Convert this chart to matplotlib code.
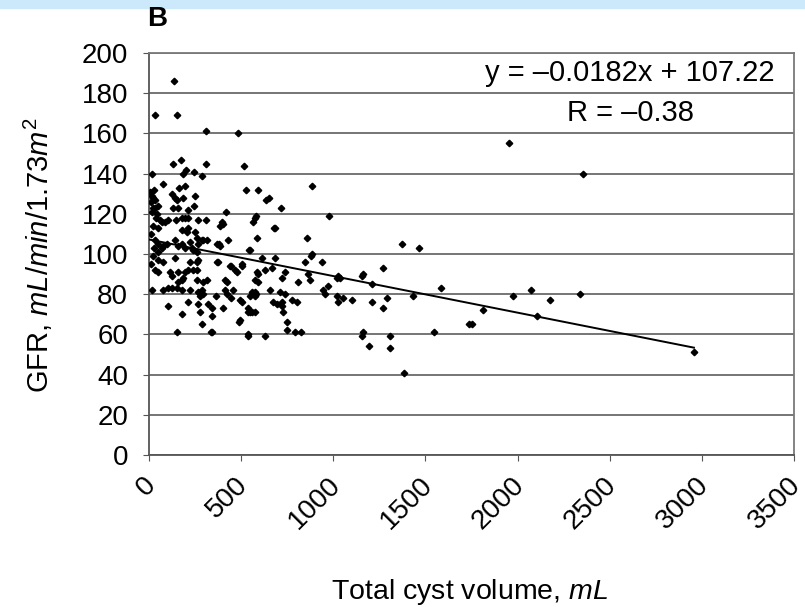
import matplotlib.pyplot as plt
import matplotlib.transforms as mtransforms
import numpy as np

plt.rcParams['font.family'] = ['Liberation Sans', 'DejaVu Sans']
plt.rcParams['mathtext.fontset'] = 'custom'
plt.rcParams['mathtext.rm'] = 'Liberation Sans'
plt.rcParams['mathtext.it'] = 'Liberation Sans:italic'

# total cyst volume (mL) and GFR (mL/min/1.73m2)
cyst_volume = [
    136, 33, 152, 309, 483, 130, 174, 309, 515, 16, 200, 184, 244, 288,
    76, 163, 195, 250, 526, 591, 884, 635, 651, 716, 977, 418, 1953, 2355,
    22, 33, 125, 130, 152, 185, 157, 212, 244, 141, 16, 33, 49, 22, 43, 16, 10, 5, 27, 38,
    60, 87, 103, 22, 49, 179, 195, 212, 266, 309, 396, 402, 385, 580, 575, 564,
    146, 70, 179, 206, 212, 678, 684, 250,
    33, 49, 76, 98, 27, 49, 70, 141, 157, 179, 195, 222, 233, 266, 293, 315,
    369, 385, 429, 586, 548, 260, 239, 260, 857, 884, 1373, 1465, 380, 543, 288, 11,
    49, 76, 33, 49, 141, 222, 266, 260, 212, 239, 260, 369, 440, 467, 505, 586,
    114, 125, 157, 179, 195, 613, 684, 879, 846, 939, 629, 667, 738, 722, 591,
    1270, 505, 477, 445, 374, 11, 22,
    157, 260, 293, 315, 412, 575, 591, 423, 863, 873, 808, 1025, 1020, 1036,
    1156, 1210, 1161, 1584, 76, 103, 125, 152, 179, 222, 288, 266, 412, 456,
    559, 575, 657, 711, 944, 971, 16, 182,
    277, 293, 364, 423, 445, 494, 738, 776, 803, 955, 580, 548, 575, 673, 695,
    722, 727, 722, 1020, 1025, 1053, 1101, 1210, 1270, 1291, 1432, 1975, 2073,
    2176, 2339, 1812, 2105, 103, 212, 266, 320, 342, 402, 179, 277, 342, 505,
    537, 559, 537, 548, 575,
    494, 288, 152, 342, 537, 336, 488, 537, 629, 749, 749, 792, 825, 1156,
    1161, 1194, 1308, 1308, 1384, 1546, 1736, 1753, 2957,
]
gfr = [
    186, 169, 169, 161, 160, 145, 147, 145, 144, 140, 142, 140, 141, 139,
    135, 133, 134, 129, 132, 132, 134, 127, 128, 123, 119, 121, 155, 140,
    128, 123, 130, 123, 127, 128, 123, 122, 124, 128, 129, 127, 124, 123, 120, 121, 126, 131, 132, 118,
    117, 116, 117, 114, 113, 118, 118, 118, 117, 117, 116, 115, 114, 119, 118, 116,
    117, 116, 112, 111, 113, 113, 113, 111,
    107, 105, 104, 105, 103, 101, 103, 107, 104, 105, 103, 106, 103, 105, 107, 107,
    105, 104, 107, 108, 102, 101, 102, 108, 108, 100, 105, 103, 105, 102, 107, 110,
    97, 96, 92, 91, 98, 96, 97, 96, 92, 92, 92, 96, 94, 92, 94, 91,
    91, 89, 91, 87, 91, 98, 98, 99, 96, 96, 92, 93, 91, 88, 90,
    93, 95, 91, 94, 96, 95, 99,
    86, 87, 86, 87, 87, 87, 86, 86, 90, 87, 86, 89, 88, 88,
    89, 85, 90, 83, 82, 83, 83, 83, 82, 82, 82, 81, 82, 82,
    81, 81, 82, 81, 82, 84, 82, 88,
    79, 80, 79, 80, 78, 77, 80, 77, 76, 80, 80, 79, 79, 76, 75,
    74, 71, 76, 79, 76, 78, 77, 76, 73, 78, 79, 79, 82,
    77, 80, 72, 69, 74, 76, 75, 75, 73, 73, 70, 71, 69, 76,
    73, 71, 71, 71, 71,
    67, 65, 61, 61, 60, 61, 66, 59, 59, 66, 62, 61, 61, 59,
    61, 54, 59, 53, 41, 61, 65, 65, 51,
]
slope = -0.0182
intercept = 107.22
r_value = -0.38

x_ticks = [0, 500, 1000, 1500, 2000, 2500, 3000, 3500]
y_ticks = [0, 20, 40, 60, 80, 100, 120, 140, 160, 180, 200]

fig = plt.figure(figsize=(8.05, 6.07), dpi=100)
fig.patches.append(plt.Rectangle((0, 1 - 8 / 607), 1, 8 / 607, transform=fig.transFigure,
                                 color='#cce9fb', zorder=0))
ax = fig.add_axes([149 / 805, 1 - 455 / 607, 645 / 805, 402 / 607])

ax.set_xlim(0, 3500)
ax.set_ylim(0, 200)
ax.set_yticks(y_ticks)
ax.set_xticks(x_ticks)
ax.set_xticklabels([str(t) for t in x_ticks], rotation=45, ha='right', va='center',
                   rotation_mode='anchor', fontsize=20)
ax.set_yticklabels([str(t) for t in y_ticks], fontsize=20)
ax.tick_params(axis='y', length=4, pad=11, color='#555555')
ax.tick_params(axis='x', length=4, pad=15, color='#555555')
# nudge the rotated labels a little to the right, as in the original
shift = mtransforms.ScaledTranslation(3 / 100, 0, fig.dpi_scale_trans)
for lab in ax.get_xticklabels():
    lab.set_transform(lab.get_transform() + shift)

ax.yaxis.grid(True, color='#6a6a6a', lw=1.3)
ax.set_axisbelow(True)
for side in ['left', 'bottom']:
    ax.spines[side].set_color('#555555')
    ax.spines[side].set_linewidth(1.3)
for side in ['top', 'right']:
    ax.spines[side].set_color('#7a7a7a')
    ax.spines[side].set_linewidth(1.3)

ax.plot(cyst_volume, gfr, 'D', color='black', markersize=3.3, zorder=3)

x_fit = np.array([min(cyst_volume), max(cyst_volume)])
ax.plot(x_fit, slope * x_fit + intercept, color='black', lw=1.4, zorder=4)

ax.text(0.746, 0.950, 'y = \u20130.0182x + 107.22', transform=ax.transAxes,
        ha='center', va='center', fontsize=21)
ax.text(0.747, 0.851, 'R = \u2013%.2f' % abs(r_value), transform=ax.transAxes,
        ha='center', va='center', fontsize=21)

fig.text(157 / 805, 1 - 19 / 607, 'B', fontsize=20, fontweight='bold', ha='center', va='center')
fig.text(38 / 805, 1 - 255 / 607, r'GFR, $\mathit{mL/min/1.73m^2}$', rotation=90,
         ha='center', va='center', fontsize=21)
fig.text(470 / 805, 1 - 592 / 607, r'Total cyst volume, $\mathit{mL}$',
         ha='center', va='center', fontsize=20.5)

fig.savefig('out.png', dpi=100)
